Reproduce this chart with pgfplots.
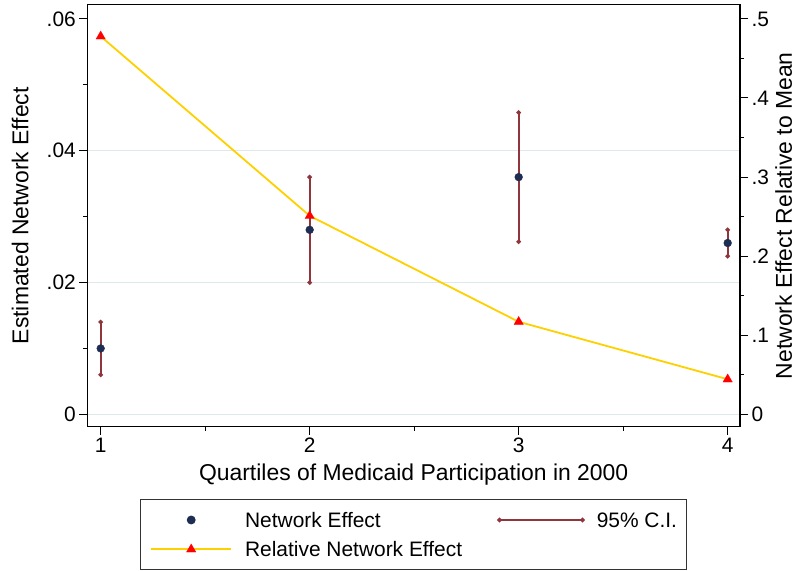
\documentclass[border=0pt]{standalone}
\usepackage{fontspec}
\setmainfont{Liberation Sans}
\usepackage{pgfplots}
\pgfplotsset{compat=1.18}
\definecolor{navyc}{RGB}{30,45,82}
\definecolor{maroonc}{RGB}{144,53,59}
\definecolor{goldc}{RGB}{255,208,0}
\definecolor{gridc}{RGB}{222,233,236}
\pgfplotsset{
  dotleg/.style={legend image code/.code={\draw[##1, mark repeat=2, mark phase=2] plot coordinates {(0bp,0bp) (40bp,0bp) (80bp,0bp)};}},
  cileg/.style={legend image code/.code={\draw[##1] plot coordinates {(0bp,0bp) (83bp,0bp)};}},
}
\begin{document}
\begin{tikzpicture}
\begin{axis}[
  scale only axis, width=652.7bp, height=422bp,
  xmin=0.936, xmax=4.059, ymin=-0.00188, ymax=0.06217,
  axis line style={line width=1.3bp, black},
  tick align=outside, xtick pos=bottom, ytick pos=left,
  xtick={1,2,3,4}, xticklabels={1,2,3,4},
  minor xtick={1.5,2.5,3.5},
  ytick={0,0.02,0.04}, yticklabels={0,.02,.04},
  extra y ticks={0.06}, extra y tick labels={.06},
  extra y tick style={grid=none},
  minor ytick={0.01,0.03,0.05},
  ymajorgrids, grid style={color=gridc, line width=1.3bp},
  major tick length=8bp, minor tick length=4bp,
  every tick/.style={black, line width=1bp},
  ticklabel style={font=\fontsize{21}{25}\selectfont},
  xlabel={Quartiles of Medicaid Participation in 2000},
  ylabel={Estimated Network Effect},
  label style={font=\fontsize{23}{27}\selectfont},
  x label style={at={(axis description cs:0.5,-0.1263)}, anchor=base},
  y label style={at={(axis description cs:-0.103,0.5)}, anchor=center, rotate=0},
  legend columns=2, legend cell align=left,
  legend style={at={(axis description cs:0.5,-0.1713)}, anchor=north,
    draw=black!80, line width=1bp, fill=white,
    inner xsep=10bp, inner ysep=11bp, row sep=10.3bp,
    font=\fontsize{21}{25}\selectfont,
    nodes={inner sep=0pt, text height=17bp, text depth=2bp},
    /tikz/every odd column/.append style={column sep=13bp},
    /tikz/every even column/.append style={column sep=36bp}},
]
\coordinate (SW) at (rel axis cs:0,0);
\coordinate (NE) at (rel axis cs:1,1);
\addlegendimage{only marks, mark=*, mark size=3.9bp, navyc, mark options={fill=navyc, draw=navyc},
  legend image code/.code={\path[draw=none] (0bp,0bp) -- (80bp,0bp); \path[draw=none] plot[mark=*, mark size=3.9bp, mark options={fill=navyc, draw=navyc}] coordinates {(40bp,0bp)};}}
\addlegendentry{Network Effect}
\addlegendimage{maroonc, line width=1.8bp, mark=*, mark size=1.3bp, mark options={fill=maroonc}, cileg}
\addlegendentry{95\% C.I.}
\addlegendimage{goldc, line width=1.8bp, mark=triangle*, mark size=5.5bp, mark options={fill=red, draw=red, line width=0.1bp}, dotleg}
\addlegendentry{Relative Network Effect}
% 95% confidence intervals
\addplot[forget plot, maroonc, line width=1.8bp, mark=*, mark size=1.3bp, mark options={fill=maroonc}, unbounded coords=jump]
  coordinates {(1,0.006) (1,0.014) (1,nan) (2,0.020) (2,0.036) (2,nan) (3,0.0262) (3,0.0458) (3,nan) (4,0.024) (4,0.028)};
% point estimates
\addplot[forget plot, only marks, mark=*, mark size=3.9bp, navyc, mark options={fill=navyc, draw=navyc}]
  coordinates {(1,0.010) (2,0.028) (3,0.036) (4,0.026)};
\end{axis}
\begin{axis}[
  scale only axis, width=652.7bp, height=422bp,
  xmin=0.936, xmax=4.059, ymin=-0.0157, ymax=0.518,
  axis y line*=right, hide x axis, xtick=\empty,
  axis line style={line width=1.3bp, black},
  tick align=outside,
  ytick={0,0.1,0.2,0.3,0.4,0.5}, yticklabels={0,.1,.2,.3,.4,.5},
  minor ytick={0.05,0.15,0.25,0.35,0.45},
  major tick length=8bp, minor tick length=4bp,
  every tick/.style={black, line width=1bp},
  ticklabel style={font=\fontsize{21}{25}\selectfont},
  ylabel={Network Effect Relative to Mean},
  label style={font=\fontsize{23}{27}\selectfont},
  y label style={at={(axis description cs:1.067,0.5)}, anchor=center, rotate=0},
]
\addplot[goldc, line width=1.8bp, mark=triangle*, mark size=5.5bp, mark options={fill=red, draw=red, line width=0.1bp}]
  coordinates {(1,0.478) (2,0.251) (3,0.117) (4,0.0443)};
\end{axis}
\pgfresetboundingbox
\useasboundingbox ([xshift=-87.3bp,yshift=-144.3bp]SW) rectangle ([xshift=59bp,yshift=4.7bp]NE);
\end{tikzpicture}
\end{document}
